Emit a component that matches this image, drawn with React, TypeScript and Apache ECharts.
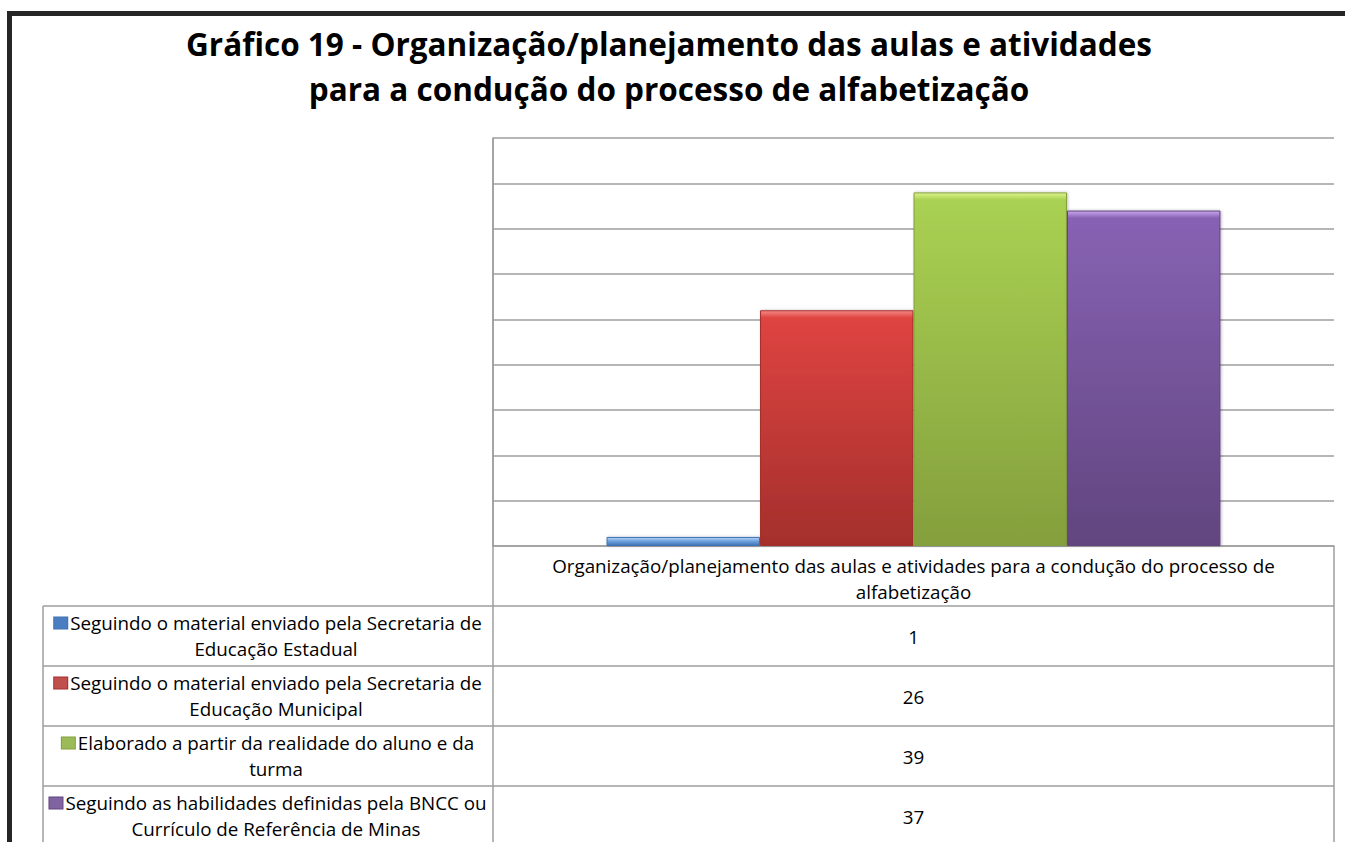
import React, { useEffect, useRef } from "react";
import * as echarts from "echarts";

const titleLines = [
  "Gráfico 19 - Organização/planejamento das aulas e atividades",
  "para a condução do processo de alfabetização",
];
const categoryLines = [
  "Organização/planejamento das aulas e atividades para a condução do processo de",
  "alfabetização",
];
const categories = [categoryLines.join(" ")];
const seriesNames = [
  ["Seguindo o material enviado pela Secretaria de", "Educação Estadual"],
  ["Seguindo o material enviado pela Secretaria de", "Educação Municipal"],
  ["Elaborado a partir da realidade do aluno e da", "turma"],
  ["Seguindo as habilidades definidas pela BNCC ou", "Currículo de Referência de Minas"],
];
const seriesValues = [1, 26, 39, 37];
const yMin = 0;
const yMax = 45;
const yInterval = 5;

// [highlight top, top, bottom, key]
const palette = [
  ["#B9D5F5", "#6FA3E0", "#3E72B4", "#4A7EC0"],
  ["#F58A86", "#DE4441", "#A42F2C", "#C0504D"],
  ["#DDF58C", "#A9D152", "#849F3D", "#9BBB59"],
  ["#C9A6F0", "#8762B3", "#61457F", "#8064A2"],
];

const FONT = "'Open Sans', 'Noto Sans', sans-serif";
const TABLE_FS = 18.8;

const GRID_LEFT = 493;
const GRID_TOP = 138;
const GRID_W = 841;
const GRID_H = 408;
const TABLE_LEFT = 43;
const TABLE_RIGHT = GRID_LEFT + GRID_W;
const HEADER_BOTTOM = 606;
const ROW_H = 60;
const LINE = "#9E9E9E";

export default function App() {
  const ref = useRef<HTMLDivElement>(null);
  useEffect(() => {
    if (!ref.current) return;
    const chart = echarts.init(ref.current, undefined, { renderer: "svg" });

    const series = seriesValues.map((v, i) => {
      const px = ((v - yMin) / (yMax - yMin)) * GRID_H;
      const hl = Math.min(0.45, 7 / Math.max(px, 1));
      return {
        type: "bar",
        name: seriesNames[i].join(" "),
        data: [v],
        barGap: "0%",
        barCategoryGap: "27%",
        itemStyle: {
          color: new echarts.graphic.LinearGradient(0, 0, 0, 1, [
            { offset: 0, color: palette[i][0] },
            { offset: hl, color: palette[i][1] },
            { offset: 1, color: palette[i][2] },
          ]),
          borderColor: palette[i][2],
          borderWidth: 1,
          shadowColor: "rgba(0,0,0,0.25)",
          shadowBlur: 3,
          shadowOffsetX: 1,
          shadowOffsetY: 0,
        },
      };
    });

    const graphics: any[] = [];
    // black frame
    graphics.push({
      type: "rect",
      shape: { x: 7, y: 11, width: 1338, height: 5 },
      style: { fill: "#262626" },
      silent: true,
    });
    graphics.push({
      type: "rect",
      shape: { x: 7, y: 11, width: 5, height: 831 },
      style: { fill: "#262626" },
      silent: true,
    });
    // table lines
    const tableBottom = HEADER_BOTTOM + ROW_H * seriesValues.length;
    graphics.push({
      type: "line",
      shape: { x1: GRID_LEFT, y1: GRID_TOP, x2: GRID_LEFT, y2: tableBottom },
      style: { stroke: LINE, lineWidth: 1.5 },
      silent: true,
    });
    graphics.push({
      type: "line",
      shape: { x1: TABLE_RIGHT, y1: GRID_TOP + GRID_H, x2: TABLE_RIGHT, y2: tableBottom },
      style: { stroke: LINE, lineWidth: 1.5 },
      silent: true,
    });
    graphics.push({
      type: "line",
      shape: { x1: TABLE_LEFT, y1: HEADER_BOTTOM, x2: TABLE_LEFT, y2: tableBottom },
      style: { stroke: LINE, lineWidth: 1.5 },
      silent: true,
    });
    for (let r = 0; r <= seriesValues.length; r++) {
      const y = HEADER_BOTTOM + r * ROW_H;
      graphics.push({
        type: "line",
        shape: { x1: TABLE_LEFT, y1: y, x2: TABLE_RIGHT, y2: y },
        style: { stroke: LINE, lineWidth: 1.5 },
        silent: true,
      });
    }
    // rows
    const legendCx = (TABLE_LEFT + GRID_LEFT) / 2;
    const valueCx = (GRID_LEFT + TABLE_RIGHT) / 2;
    seriesNames.forEach((lines, i) => {
      const cy = HEADER_BOTTOM + i * ROW_H + ROW_H / 2;
      graphics.push({
        type: "text",
        x: legendCx,
        y: cy,
        silent: true,
        style: {
          text: `{k| }{g| }${lines[0]}\n{s| }{g| }${lines[1]}`,
          fontFamily: FONT,
          fontSize: TABLE_FS,
          lineHeight: 26,
          fill: "#000",
          align: "center",
          verticalAlign: "middle",
          rich: {
            k: {
              width: 13,
              height: 11,
              backgroundColor: palette[i][3],
              borderColor: palette[i][2],
              borderWidth: 1,
              lineHeight: 26,
            },
            s: { width: 13, height: 11, lineHeight: 26 },
            g: { width: 3, lineHeight: 26 },
          },
        },
      });
      graphics.push({
        type: "text",
        x: valueCx,
        y: cy + 1,
        silent: true,
        style: {
          text: String(seriesValues[i]),
          fontFamily: FONT,
          fontSize: TABLE_FS,
          fill: "#000",
          align: "center",
          verticalAlign: "middle",
        },
      });
    });
    // title
    graphics.push({
      type: "text",
      x: 669,
      y: 66,
      silent: true,
      style: {
        text: titleLines.join("\n"),
        fontFamily: FONT,
        fontSize: 31.5,
        fontWeight: "bold",
        lineHeight: 45,
        fill: "#000",
        align: "center",
        verticalAlign: "middle",
      },
    });

    chart.setOption({
      animation: false,
      backgroundColor: "#FFFFFF",
      grid: { left: GRID_LEFT, top: GRID_TOP, width: GRID_W, height: GRID_H, containLabel: false },
      xAxis: {
        type: "category",
        data: categories,
        axisLine: { show: true, lineStyle: { color: LINE, width: 1.5 } },
        axisTick: { show: false },
        axisLabel: {
          show: true,
          margin: 7,
          formatter: () => categoryLines.join("\n"),
          fontFamily: FONT,
          fontSize: TABLE_FS,
          lineHeight: 26,
          color: "#000",
        },
      },
      yAxis: {
        type: "value",
        min: yMin,
        max: yMax,
        interval: yInterval,
        axisLine: { show: true, lineStyle: { color: LINE, width: 1.5 } },
        axisTick: { show: false },
        axisLabel: { show: false },
        splitLine: { show: true, lineStyle: { color: LINE, width: 1.5 } },
      },
      series,
      graphic: graphics,
    });
    return () => chart.dispose();
  }, []);
  return (
    <div
      ref={ref}
      style={{ position: "fixed", left: 0, top: 0, width: 1345, height: 842, background: "#fff" }}
    />
  );
}
